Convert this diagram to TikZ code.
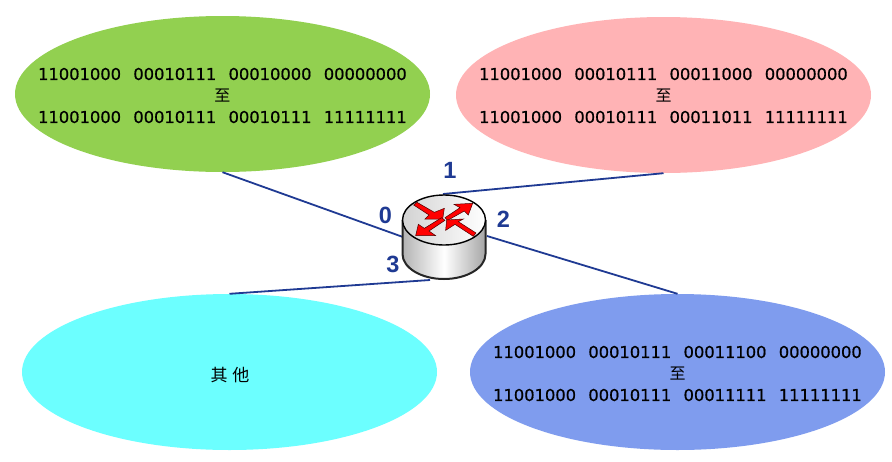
\documentclass[tikz,border=0pt]{standalone}
\usepackage{fontspec}
\usetikzlibrary{shapes.geometric}
\setmainfont{Liberation Sans}
\newfontfamily\digitfont[FakeBold=0.8]{DejaVu Sans}
\newfontfamily\cjkfont{Noto Sans CJK SC}
\definecolor{linkblue}{HTML}{1F3A93}
\definecolor{lawn}{HTML}{92D050}
\definecolor{rose}{HTML}{FFB3B5}
\definecolor{aqua}{HTML}{6CFFFF}
\definecolor{periw}{HTML}{7F9CEE}
\newcommand{\gp}{\hspace{12.3pt}}
\newcommand{\addr}[4]{#1\gp #2\gp #3\gp #4}
\tikzset{
  net/.style={ellipse,draw=none,inner sep=0pt,minimum width=415pt,minimum height=156pt},
  nettext/.style={inner sep=0pt,align=center,font=\digitfont\fontsize{16.3}{21.5}\selectfont},
  link/.style={draw=linkblue,line width=1.8pt},
  portnum/.style={text=linkblue,font=\bfseries\fontsize{23.5}{23.5}\selectfont,inner sep=0pt},
  redarrow/.style={fill=red,draw=black!70!red,line width=0.5pt,line join=miter}
}
\newcommand{\zhi}{{\cjkfont\fontsize{16}{21.5}\selectfont 至}}
\begin{document}
\begin{tikzpicture}[x=1pt,y=-1pt]
\path[use as bounding box,fill=white] (0,0) rectangle (892,461);
\node[net,fill=lawn] (green) at (222.5,94) {};
\node[net,fill=rose] (pink) at (663.5,95) {};
\node[net,fill=aqua] (cyan) at (229.5,372) {};
\node[net,fill=periw] (blue) at (677.5,372) {};
\node[nettext] (greentext) at (222.5,95.5) {\addr{11001000}{00010111}{00010000}{00000000}\\\zhi\\\addr{11001000}{00010111}{00010111}{11111111}};
\node[nettext] (pinktext) at (663.5,95.5) {\addr{11001000}{00010111}{00011000}{00000000}\\\zhi\\\addr{11001000}{00010111}{00011011}{11111111}};
\node[nettext] (cyantext) at (230,375) {{\cjkfont\fontsize{17}{20}\selectfont 其\hspace{5pt}他}};
\node[nettext] (bluetext) at (677.5,373.5) {\addr{11001000}{00010111}{00011100}{00000000}\\\zhi\\\addr{11001000}{00010111}{00011111}{11111111}};
% router attachment points
\coordinate (r0) at (403,237);
\coordinate (r1) at (443,194);
\coordinate (r2) at (487,236);
\coordinate (r3) at (430,280);
\draw[link] (green.south) -- (r0);
\draw[link] (pink.south) -- (r1);
\draw[link] (blue.north) -- (r2);
\draw[link] (cyan.north) -- (r3);
% router body
\path[left color=gray!60,right color=gray!70,middle color=white]
  (402.5,220) -- (402.5,254) arc[start angle=180,end angle=360,x radius=41.5pt,y radius=25pt] -- (485.5,220) -- cycle;
\draw[black!85,line width=2pt] (402.5,220) -- (402.5,254) arc[start angle=180,end angle=360,x radius=41.5pt,y radius=25pt] -- (485.5,220);
\path[left color=gray!35,right color=white,draw=black,line width=1.4pt] (444,220) ellipse[x radius=41.5pt,y radius=25pt];
% arrows
\begin{scope}[shift={(405,195)},x=0.3333pt,y=-0.3333pt]
\path[redarrow] (26,30) -- (72,60) -- (60,72) -- (113,72) -- (118,40) -- (88,52) -- (36,22) -- cycle;
\path[redarrow] (120,68) -- (165,38) -- (147,28) -- (203,25) -- (190,60) -- (178,48) -- (128,76) -- cycle;
\path[redarrow] (205,124) -- (150,88) -- (122,106) -- (125,75) -- (175,72) -- (160,80) -- (213,114) -- cycle;
\path[redarrow] (110,68) -- (58,100) -- (40,88) -- (32,122) -- (92,122) -- (72,108) -- (120,76) -- cycle;
\end{scope}
% port labels
\node[portnum] (p0) at (385.5,215) {0};
\node[portnum] (p1) at (450,170.5) {1};
\node[portnum] (p2) at (503.5,219.5) {2};
\node[portnum] (p3) at (393,264.5) {3};
\end{tikzpicture}
\end{document}
